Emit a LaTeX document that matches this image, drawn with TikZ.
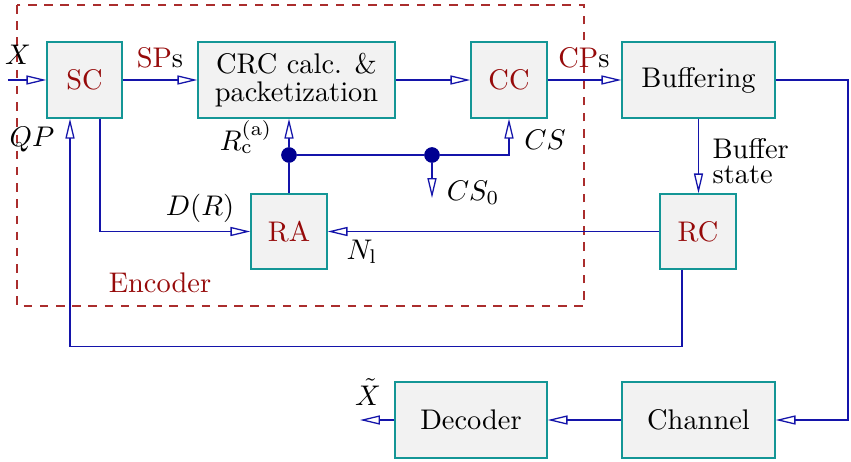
\documentclass[tikz,border=0pt]{standalone}
\usetikzlibrary{arrows.meta,calc}
\definecolor{boxfill}{RGB}{242,242,242}
\definecolor{boxline}{RGB}{20,150,150}
\definecolor{lineblue}{RGB}{20,20,170}
\definecolor{dotblue}{RGB}{0,0,145}
\definecolor{dred}{RGB}{150,10,10}
\definecolor{dashred}{RGB}{170,45,45}
\begin{document}
\begin{tikzpicture}[x=0.352pt,y=-0.352pt,
  box/.style={draw=boxline, fill=boxfill, line width=0.45pt, inner sep=0pt, align=center},
  conn/.style={draw=lineblue, line width=0.45pt},
  arr/.style={conn, -{Triangle[open,length=7pt,width=3.2pt]}},
  dot/.style={circle, fill=dotblue, inner sep=0pt, minimum size=5.4pt},
  lbl/.style={inner sep=0pt}]
\useasboundingbox (0,0) rectangle (851,462);
\draw[dashred, dash pattern=on 3pt off 2.7pt, line width=0.4pt] (17,5) rectangle (584,306);
\node[box, minimum width={75*0.352pt}, minimum height={76*0.352pt}, text=dred] (sc) at (84.5,80) {SC};
\node[box, minimum width={197*0.352pt}, minimum height={76*0.352pt}] (crc) at (296.5,80) {CRC calc. \&\\[-2pt]packetization};
\node[box, minimum width={76*0.352pt}, minimum height={76*0.352pt}, text=dred] (cc) at (509,80) {CC};
\node[box, minimum width={153*0.352pt}, minimum height={76*0.352pt}] (buf) at (698.5,80) {Buffering};
\node[box, minimum width={76*0.352pt}, minimum height={75*0.352pt}, text=dred] (ra) at (289,231.5) {RA};
\node[box, minimum width={76*0.352pt}, minimum height={75*0.352pt}, text=dred] (rc) at (698,231.5) {RC};
\node[box, minimum width={152*0.352pt}, minimum height={76*0.352pt}] (dec) at (471,420) {Decoder};
\node[box, minimum width={153*0.352pt}, minimum height={76*0.352pt}] (ch) at (698.5,420) {Channel};
\node[dot] (d1) at (289,155) {};
\node[dot] (d2) at (432,155) {};
\coordinate (xin) at (8,80);
\coordinate (xout) at (360,420);
\coordinate (cs0) at (432,198);
\coordinate (br) at (848,80);
% connectors
\draw[arr] (xin) -- (sc.west);
\draw[arr] (sc.east) -- (crc.west);
\draw[arr] (crc.east) -- (cc.west);
\draw[arr] (cc.east) -- (buf.west);
\draw[arr] (buf.south) -- (buf.south |- rc.north);
\draw[arr] (buf.east) -- (br) |- (ch.east);
\draw[arr] (ch.west) -- (dec.east);
\draw[arr] (dec.west) -- (xout);
\draw[arr] (rc.west) -- (ra.east);
\draw[arr] ($(rc.south)+(-16,0)$) -- ++(0,77) -| ($(sc.south)+(-14.5,0)$);
\draw[arr] ($(sc.south)+(15.5,0)$) |- (ra.west);
\draw[conn] (ra.north) -- (d1);
\draw[arr] (d1) -- (d1 |- crc.south);
\draw[conn] (d1) -- (d2);
\draw[arr] (d2) -| (cc.south);
\draw[arr] (d2) -- (cs0);
\node[dot] at (d1) {};
\node[dot] at (d2) {};
% labels
\node[lbl] (lx) at (18,55) {$X$};
\node[lbl] (lqp) at (32,140) {$QP$};
\node[lbl] (lsp) at (160,58) {\textcolor{dred}{SP}s};
\node[lbl] (lcp) at (584,58) {\textcolor{dred}{CP}s};
\node[lbl] (lrca) at (246,137) {$R_{\mathrm{c}}^{(\mathrm{a})}$};
\node[lbl] (lcs) at (545,140) {$CS$};
\node[lbl] (lcs0) at (473,193) {$CS_0$};
\node[lbl] (ldr) at (200,208) {$D(R)$};
\node[lbl] (lnl) at (362,252) {$N_{\mathrm{l}}$};
\node[lbl, align=left, anchor=west] (lbs) at (712,161) {Buffer\\[-3pt]state};
\node[lbl] (lxt) at (368,392) {$\tilde{X}$};
\node[lbl, text=dred] (lenc) at (160,283) {Encoder};
\end{tikzpicture}
\end{document}
